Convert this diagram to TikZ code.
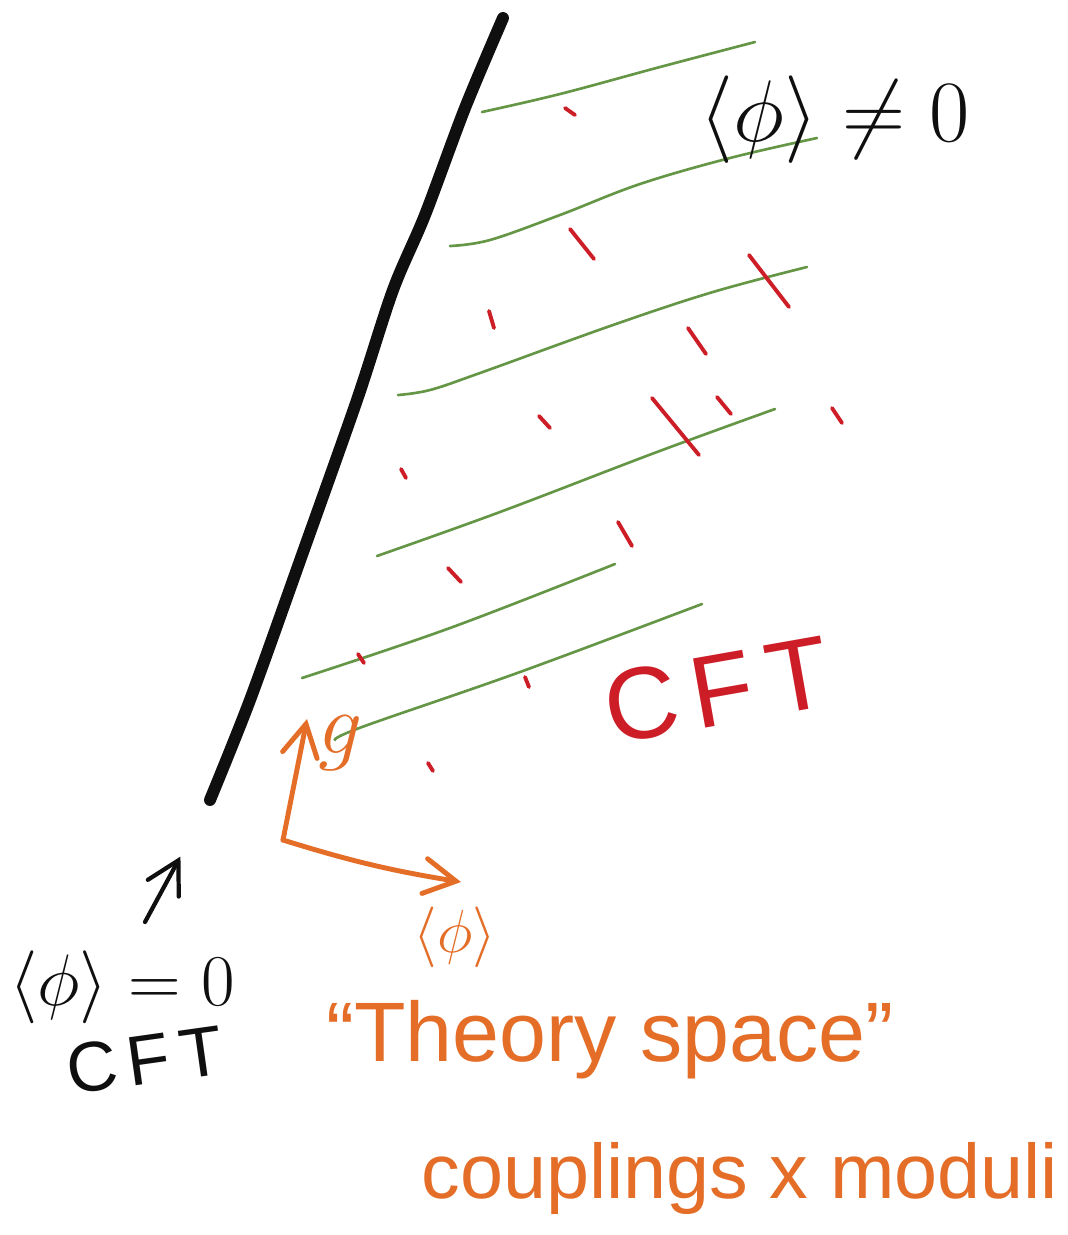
\documentclass[tikz,border=0pt]{standalone}
\usepackage{fontspec}
\setmainfont{Liberation Sans}
\newfontfamily\spacedsans[LetterSpace=14]{Liberation Sans}
\usetikzlibrary{arrows.meta}
\definecolor{ink}{RGB}{15,15,15}
\definecolor{leafgreen}{RGB}{100,150,70}
\definecolor{tickred}{RGB}{205,30,40}
\definecolor{penorange}{RGB}{228,110,40}
\begin{document}
\begin{tikzpicture}[x=0.01cm,y=-0.01cm,
  wall/.style={line width=3.4pt, ink, line cap=round, line join=round},
  leaf/.style={line width=0.75pt, leafgreen, line cap=round},
  hatch/.style={line width=1.1pt, tickred, line cap=round},
  pen/.style={line width=1.4pt, penorange, line cap=round, line join=round},
  inkpen/.style={line width=1.2pt, ink, line cap=round, line join=round},
  barb/.style={-{Straight Barb[length=9pt,width=10pt,line cap=round]}},
  txt/.style={inner sep=0pt, outer sep=0pt}
]
\useasboundingbox (0,0) rectangle (1068,1235);
\fill[white] (0,0) rectangle (1068,1235);

% thick black boundary
\draw[wall] plot[smooth, tension=0.5] coordinates {(503,18) (465,108) (425,215) (393,290) (357,400) (302,555) (250,700) (210,800)};
\coordinate (wallEnd) at (210,802);

% green lines
\draw[leaf] plot[smooth, tension=0.6] coordinates {(482,112) (560,94) (660,67) (755,42)};
\draw[leaf] plot[smooth, tension=0.6] coordinates {(450,246) (490,240) (560,215) (640,184) (730,158) (817,138)};
\draw[leaf] plot[smooth, tension=0.6] coordinates {(398,395) (430,390) (480,373) (613,325) (713,292) (807,267)};
\draw[leaf] plot[smooth, tension=0.6] coordinates {(377,556) (500,512) (657,452) (775,409)};
\draw[leaf] plot[smooth, tension=0.6] coordinates {(302,678) (450,628) (615,564)};
\draw[leaf] plot[smooth, tension=0.6] coordinates {(335,740) (362,727) (520,672) (702,604)};

% red hatch marks
\draw[hatch] (565,108) -- (575,115);
\draw[hatch] (570,229) -- (594,259);
\draw[hatch] (489,311) -- (494,328);
\draw[hatch] (749,255) -- (789,307);
\draw[hatch] (688,328) -- (706,354);
\draw[hatch] (539,416) -- (550,428);
\draw[hatch] (652,398) -- (699,455);
\draw[hatch] (717,397) -- (731,414);
\draw[hatch] (832,408) -- (842,423);
\draw[hatch] (401,469) -- (406,478);
\draw[hatch] (618,522) -- (632,546);
\draw[hatch] (448,568) -- (461,582);
\draw[hatch] (358,654) -- (364,663);
\draw[hatch] (525,677) -- (529,687);
\draw[hatch] (428,763) -- (433,771);

% labels
\node[txt, ink, font=\fontsize{23}{27}\selectfont] (topLabel) at (835,120) {$\langle\phi\rangle\neq 0$};
\node[txt, tickred, font=\spacedsans\fontsize{29}{33}\selectfont, rotate=10] (cftRed) at (717,690) {CFT};
\node[txt, penorange, font=\fontsize{28}{32}\selectfont] (gLabel) at (341,743) {$g$};
\node[txt, penorange, font=\fontsize{19}{23}\selectfont] (phiLabel) at (455,937) {$\langle\phi\rangle$};
\node[txt, penorange, font=\fontsize{24}{28}\selectfont] (theory) at (610,1040) {“Theory space”};
\node[txt, penorange, font=\fontsize{22}{26}\selectfont] (couplings) at (740,1178) {couplings x moduli};
\node[txt, ink, font=\fontsize{20}{24}\selectfont] (phiZero) at (122,987) {$\langle\phi\rangle = 0$};
\node[txt, ink, font=\spacedsans\fontsize{20}{24}\selectfont, rotate=8] (cftBlack) at (145,1060) {CFT};

% orange axes
\coordinate (axes) at (283,840);
\coordinate (gTip) at (307,719);
\coordinate (phiTip) at (461,882);
\draw[pen, barb] (axes) -- (gTip);
\draw[pen, barb] (axes) to[bend right=4] (phiTip);

% black arrow to the end of the boundary
\coordinate (zeroTail) at (145,922);
\draw[inkpen, barb, shorten >=0.62cm] (zeroTail) -- (wallEnd);
\end{tikzpicture}
\end{document}
